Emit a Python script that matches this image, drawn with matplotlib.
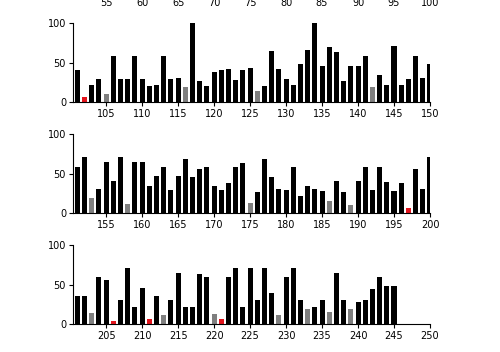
import matplotlib
matplotlib.use("Agg")
import matplotlib.pyplot as plt

# values per position, rows of 50
row1 = [41, 7, 22, 30, 11, 59, 30, 29, 59, 30,
        21, 22, 59, 30, 31, 19, 100, 27, 21, 38,
        41, 42, 28, 41, 44, 14, 21, 65, 42, 30,
        22, 48, 66, 100, 46, 70, 64, 27, 46, 46,
        59, 19, 35, 22, 71, 22, 30, 59, 31, 48]
row2 = [59, 71, 19, 31, 65, 41, 71, 12, 65, 65,
        35, 47, 59, 29, 47, 69, 46, 56, 58, 35,
        30, 38, 59, 64, 13, 27, 69, 46, 31, 29,
        58, 22, 35, 31, 28, 16, 41, 27, 11, 41,
        58, 30, 59, 39, 28, 38, 7, 56, 31, 71]
row3 = [35, 35, 14, 60, 56, 4, 30, 71, 22, 46,
        6, 35, 11, 31, 65, 22, 22, 63, 59, 13,
        7, 60, 71, 22, 71, 30, 71, 40, 12, 59,
        71, 30, 19, 22, 30, 15, 65, 30, 19, 28,
        30, 45, 60, 48, 48]

# positions drawn in gray / red, everything else black
gray_pos = [105, 116, 126, 142, 153, 158, 175, 186, 189,
            203, 213, 220, 229, 233, 236, 239]
red_pos = [102, 197, 206, 211, 221]

rows = [(51, []), (101, row1), (151, row2), (201, row3)]
bottoms = [1.0247, 0.709, 0.394, 0.079]

fig = plt.figure(figsize=(5, 3.52), dpi=100)

for (start, vals), b in zip(rows, bottoms):
    ax = fig.add_axes([0.146, b, 0.714, 0.225])
    pos = list(range(start, start + len(vals)))
    cols = []
    for p in pos:
        if p in red_pos:
            cols.append('#e3141c')
        elif p in gray_pos:
            cols.append('#7f7f7f')
        else:
            cols.append('black')
    ax.bar(pos, vals, width=0.7, color=cols)
    ax.set_xlim(start - 0.6, start + 49)
    ax.set_ylim(0, 100)
    ax.set_xticks(range(start + 4, start + 50, 5))
    ax.set_yticks([0, 50, 100])
    ax.spines['top'].set_visible(False)
    ax.spines['right'].set_visible(False)
    ax.tick_params(labelsize=7, length=3, width=0.8, pad=2)

fig.savefig('out.png', dpi=100)
